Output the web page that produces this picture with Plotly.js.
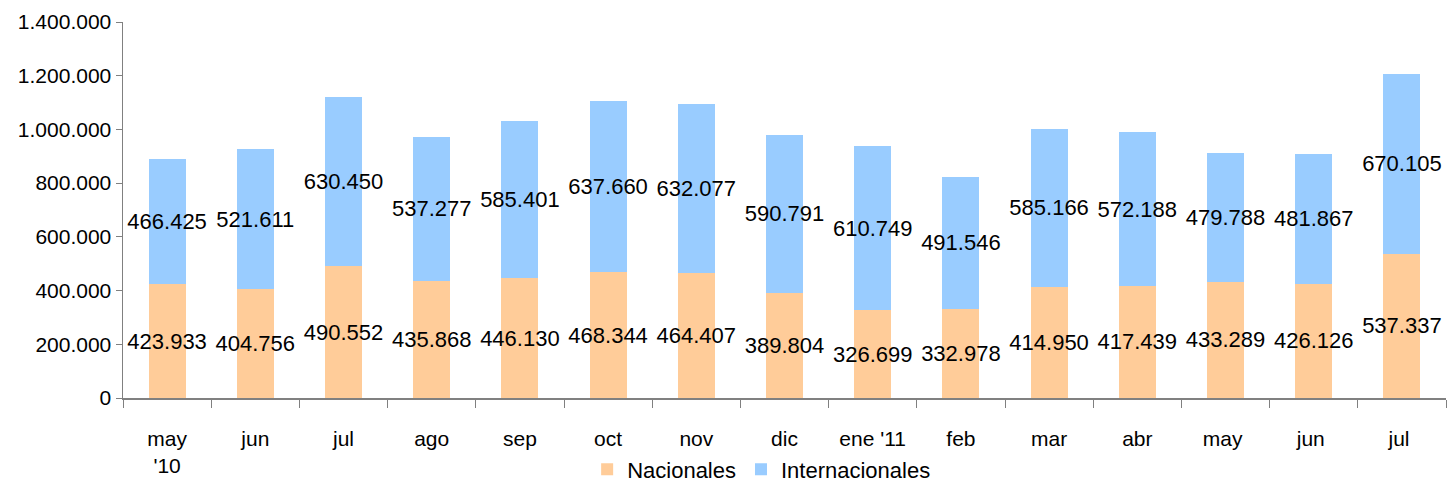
<!DOCTYPE html>
<html>
<head>
<meta charset="utf-8">
<script src="https://cdn.plot.ly/plotly-3.0.1.min.js"></script>
<style>html,body{margin:0;padding:0;background:#fff;}#chart{width:1448px;height:483px;}</style>
</head>
<body>
<div id="chart"></div>
<script>
const categories = ["may<br>'10", "jun", "jul", "ago", "sep", "oct", "nov", "dic", "ene '11", "feb", "mar", "abr", "may ", "jun ", "jul "];
const nacionales = [423933, 404756, 490552, 435868, 446130, 468344, 464407, 389804, 326699, 332978, 414950, 417439, 433289, 426126, 537337];
const internacionales = [466425, 521611, 630450, 537277, 585401, 637660, 632077, 590791, 610749, 491546, 585166, 572188, 479788, 481867, 670105];
const seriesNames = ["Nacionales", "Internacionales"];

const font = {family: "Liberation Sans, Arial, Helvetica, sans-serif", size: 21, color: "#000"};
const barFont = {family: "Liberation Sans, Arial, Helvetica, sans-serif", size: 22, color: "#000"};
const legendFont = {family: "Liberation Sans, Arial, Helvetica, sans-serif", size: 22, color: "#000"};

const traces = [
  {type: "bar", name: seriesNames[0], x: categories, y: nacionales,
   marker: {color: "#FFCC99"}, texttemplate: "%{y:,d}", textposition: "inside",
   insidetextanchor: "middle", constraintext: "none", textangle: 0,
   textfont: barFont, hoverinfo: "y"},
  {type: "bar", name: seriesNames[1], x: categories, y: internacionales,
   marker: {color: "#99CCFF"}, texttemplate: "%{y:,d}", textposition: "inside",
   insidetextanchor: "middle", constraintext: "none", textangle: 0,
   textfont: barFont, hoverinfo: "y"}
];

const layout = {
  width: 1448, height: 483,
  margin: {l: 123, r: 2, t: 22, b: 85, autoexpand: false},
  barmode: "stack",
  bargap: 0.58,
  separators: ",.",
  paper_bgcolor: "#fff", plot_bgcolor: "#fff",
  font: font,
  showlegend: true,
  legend: {orientation: "h", traceorder: "normal", xref: "container", yref: "container",
           x: 0.526, xanchor: "center", y: 0.028, yanchor: "middle",
           bgcolor: "rgba(0,0,0,0)", font: legendFont, tracegroupgap: 0, itemwidth: 30},
  xaxis: {type: "category", showline: true, linecolor: "#808080", linewidth: 1.5,
          ticks: "outside", ticklen: 8, tickcolor: "#808080", tickson: "boundaries",
          ticklabelstandoff: 21, automargin: false,
          showgrid: false, zeroline: false, tickfont: font, tickangle: 0, fixedrange: true},
  yaxis: {range: [0, 1400000], dtick: 200000, tickformat: ",d", showline: true, automargin: false,
          linecolor: "#808080", linewidth: 1.5, ticks: "outside", ticklen: 6, tickcolor: "#808080",
          showgrid: false, zeroline: false, tickfont: font, fixedrange: true}
};

Plotly.newPlot("chart", traces, layout, {displayModeBar: false, staticPlot: true});
</script>
</body>
</html>
